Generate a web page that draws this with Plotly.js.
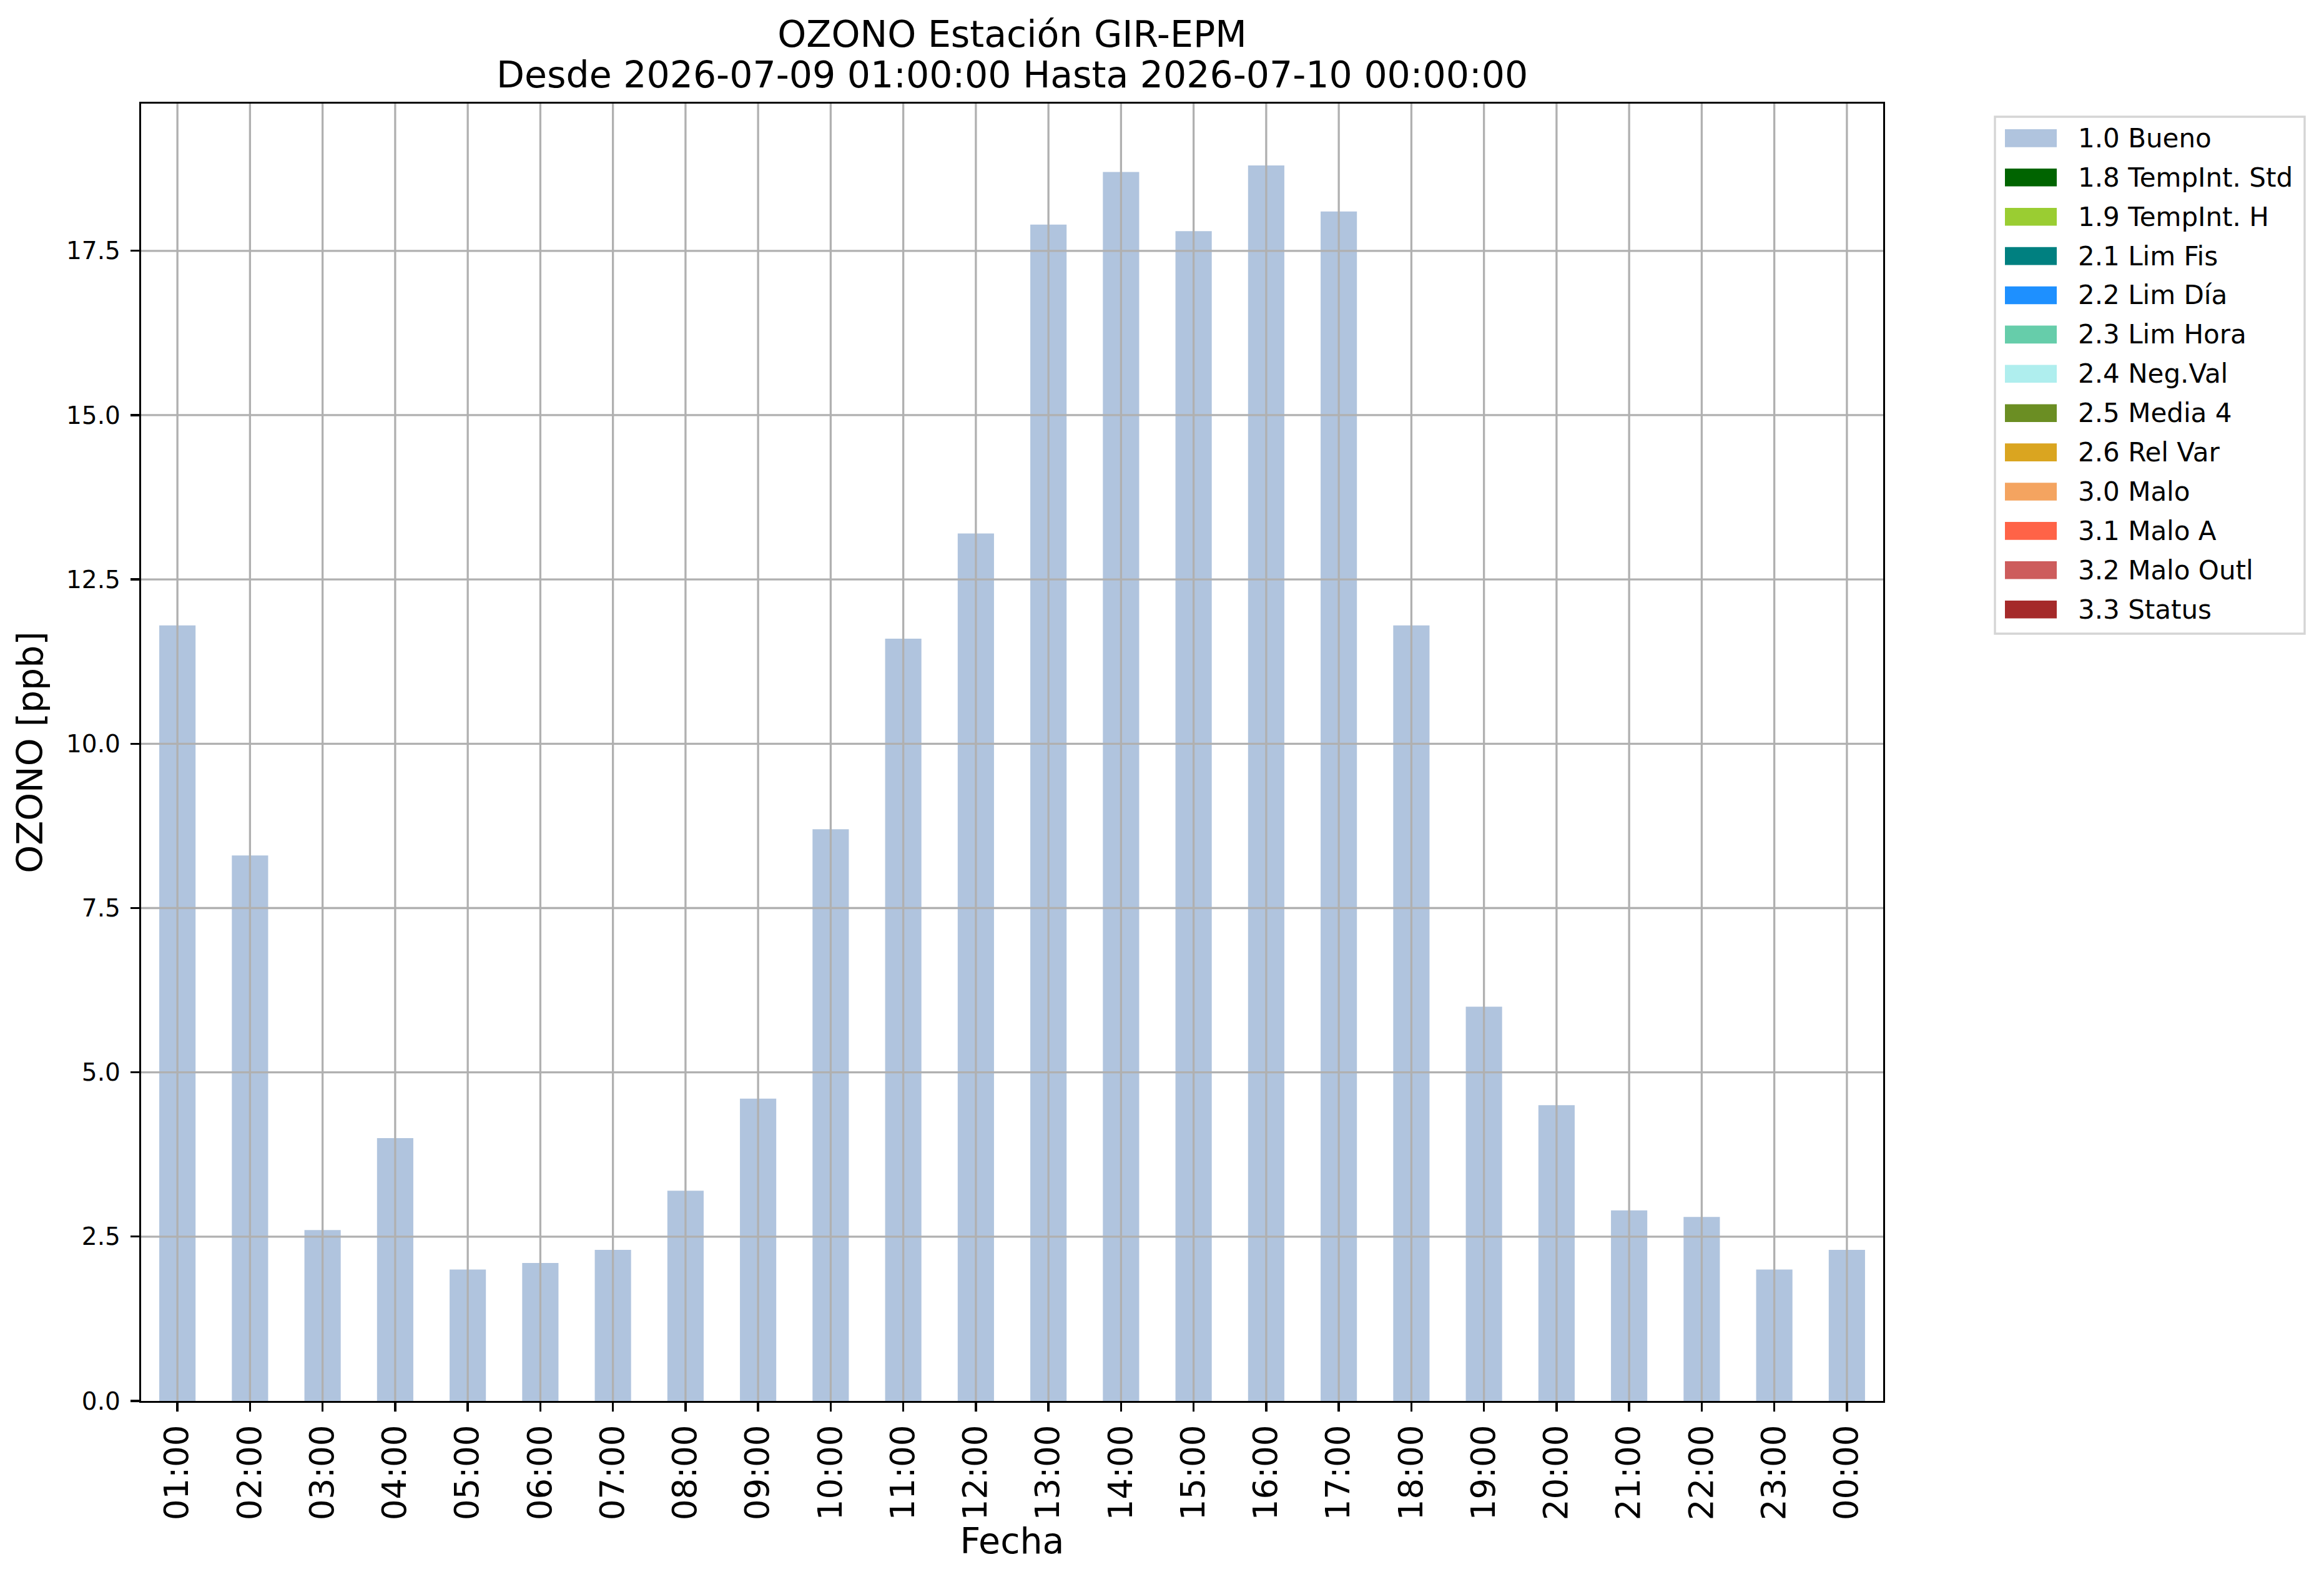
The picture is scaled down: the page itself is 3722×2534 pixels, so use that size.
<!DOCTYPE html>
<html>
<head>
<meta charset="utf-8">
<script src="https://cdn.plot.ly/plotly-3.0.1.min.js"></script>
<style>html,body{margin:0;padding:0;background:#fff;}</style>
</head>
<body>
<div id="chart"></div>
<script>
// ---- data ----
const categories = ['01:00','02:00','03:00','04:00','05:00','06:00','07:00','08:00','09:00','10:00','11:00','12:00',
                    '13:00','14:00','15:00','16:00','17:00','18:00','19:00','20:00','21:00','22:00','23:00','00:00'];
const bueno = [11.8, 8.3, 2.6, 4.0, 2.0, 2.1, 2.3, 3.2, 4.6, 8.7, 11.6, 13.2,
               17.9, 18.7, 17.8, 18.8, 18.1, 11.8, 6.0, 4.5, 2.9, 2.8, 2.0, 2.3];
const seriesNames = ['1.0 Bueno','1.8 TempInt. Std','1.9 TempInt. H','2.1 Lim Fis','2.2 Lim Día','2.3 Lim Hora',
                     '2.4 Neg.Val','2.5 Media 4','2.6 Rel Var','3.0 Malo','3.1 Malo A','3.2 Malo Outl','3.3 Status'];
const seriesColors = ['#B0C4DE','#006400','#9ACD32','#008080','#1E90FF','#66CDAA',
                      '#AFEEEE','#6B8E23','#DAA520','#F4A460','#FF6347','#CD5C5C','#A52A2A'];
const emptySeries = [];   // flagged categories have no values in this period
const yTickVals = [0, 2.5, 5.0, 7.5, 10.0, 12.5, 15.0, 17.5];
const titleLine1 = 'OZONO Estación GIR-EPM';
const titleLine2 = 'Desde 2026-07-09 01:00:00 Hasta 2026-07-10 00:00:00';

// ---- geometry (pixels) ----
const W = 3722, H = 2534;
const L = 226, R = 3016, T = 166, B = 2244;
const pw = R - L, ph = B - T;
const px2x = p => (p - L) / pw;
const px2y = p => (B - p) / ph;
const FONT = 'DejaVu Sans, Liberation Sans, sans-serif';
const LW = 3.3;
const TITLE_SIZE = 58.5;

const traces = seriesNames.map((name, i) => ({
  type: 'bar',
  name: name,
  x: i === 0 ? categories : emptySeries,
  y: i === 0 ? bueno : emptySeries,
  width: 0.5,
  marker: {color: seriesColors[i], line: {width: 0}},
  showlegend: false,
  hoverinfo: 'x+y+name'
}));

const shapes = [];
// grid drawn over bars (as in the reference)
categories.forEach(c => shapes.push({
  type: 'line', xref: 'x', yref: 'paper', x0: c, x1: c, y0: 0, y1: 1,
  line: {color: '#b0b0b0', width: LW}, layer: 'above'
}));
yTickVals.filter(v => v > 0).forEach(v => shapes.push({
  type: 'line', xref: 'paper', yref: 'y', x0: 0, x1: 1, y0: v, y1: v,
  line: {color: '#b0b0b0', width: LW}, layer: 'above'
}));

// legend (custom, matplotlib style)
const legL = 3195, legR = 3691, legT = 187, legB = 1015;
shapes.push({
  type: 'rect', xref: 'paper', yref: 'paper',
  x0: px2x(legL), x1: px2x(legR), y0: px2y(legB), y1: px2y(legT),
  line: {color: '#d5d5d5', width: 3.4}, fillcolor: 'rgba(255,255,255,0.8)', layer: 'above'
});
const annotations = [];
const item0 = 221.4, itemStep = 62.9;
seriesNames.forEach((name, i) => {
  const cy = item0 + i * itemStep;
  shapes.push({
    type: 'rect', xref: 'paper', yref: 'paper',
    x0: px2x(3211), x1: px2x(3294), y0: px2y(cy + 14.3), y1: px2y(cy - 14.3),
    line: {width: 0}, fillcolor: seriesColors[i], layer: 'above'
  });
  annotations.push({
    xref: 'paper', yref: 'paper', x: px2x(3326), y: px2y(cy),
    xanchor: 'left', yanchor: 'middle', showarrow: false,
    text: name, font: {family: FONT, size: 42, color: '#000'}
  });
});
// second title line
annotations.push({
  xref: 'paper', yref: 'paper', x: 0.5, y: px2y(120),
  xanchor: 'center', yanchor: 'middle', showarrow: false,
  text: titleLine2, font: {family: FONT, size: TITLE_SIZE, color: '#000'}
});

const layout = {
  width: W, height: H,
  paper_bgcolor: '#fff', plot_bgcolor: '#fff',
  margin: {l: L, r: W - R, t: T, b: H - B, pad: 0, autoexpand: false},
  font: {family: FONT, color: '#000'},
  barmode: 'stack',
  showlegend: false,
  title: {
    text: titleLine1,
    font: {family: FONT, size: TITLE_SIZE, color: '#000'},
    xref: 'paper', x: 0.5, xanchor: 'center',
    yref: 'container', y: 1 - 55 / H, yanchor: 'middle'
  },
  xaxis: {
    type: 'category',
    range: [-0.5, categories.length - 0.5],
    tickangle: -90,
    tickfont: {family: FONT, size: 53, color: '#000'},
    ticks: 'outside', ticklen: 14, tickwidth: LW, tickcolor: '#000',
    showline: true, linecolor: '#000', linewidth: LW, mirror: true,
    showgrid: false, zeroline: false,
    ticklabelstandoff: 0,
    title: {text: 'Fecha', font: {family: FONT, size: 57, color: '#000'}, standoff: 8}
  },
  yaxis: {
    range: [0, 19.74],
    tickmode: 'array', tickvals: yTickVals, ticktext: yTickVals.map(v => v.toFixed(1)),
    tickfont: {family: FONT, size: 39, color: '#000'},
    ticks: 'outside', ticklen: 14, tickwidth: LW, tickcolor: '#000',
    showline: true, linecolor: '#000', linewidth: LW, mirror: true,
    showgrid: false, zeroline: false,
    ticklabelstandoff: 8,
    title: {text: 'OZONO [ppb]', font: {family: FONT, size: 57, color: '#000'}, standoff: 20}
  },
  shapes: shapes,
  annotations: annotations
};

Plotly.newPlot('chart', traces, layout, {displayModeBar: false, staticPlot: true});
</script>
</body>
</html>
